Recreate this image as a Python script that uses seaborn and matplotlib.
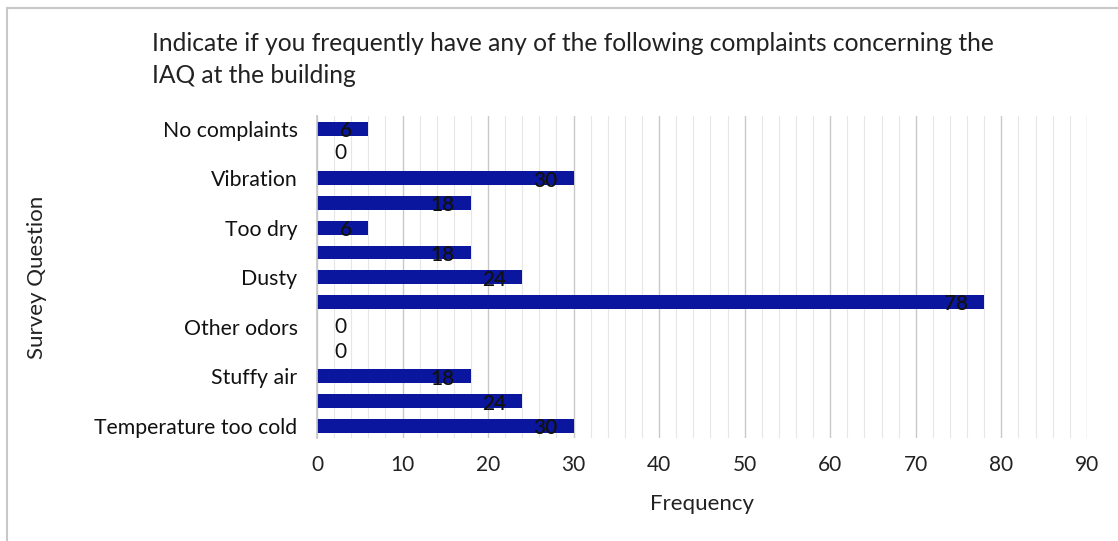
import matplotlib
matplotlib.use("Agg")
import matplotlib.pyplot as plt
import seaborn as sns
import pandas as pd
from matplotlib.ticker import MultipleLocator
from matplotlib.patches import Rectangle

# Data (top to bottom as displayed)
categories = ["No complaints", "Item 12", "Vibration", "Item 10", "Too dry", "Item 8",
              "Dusty", "Item 6", "Other odors", "Item 4", "Stuffy air", "Item 2",
              "Temperature too cold"]
tick_labels = ["No complaints", "", "Vibration", "", "Too dry", "",
               "Dusty", "", "Other odors", "", "Stuffy air", "",
               "Temperature too cold"]
values = [6, 0, 30, 18, 6, 18, 24, 78, 0, 0, 18, 24, 30]

title = "Indicate if you frequently have any of the following complaints concerning the\nIAQ at the building"
xlabel = "Frequency"
ylabel = "Survey Question"

sns.set_theme(style="white")
plt.rcParams['font.family'] = ['Lato', 'DejaVu Sans']

df = pd.DataFrame({"cat": categories, "val": values})

fig = plt.figure(figsize=(11.18, 5.41), dpi=100)
ax = fig.add_axes([0.2835, 0.19, 0.6887, 0.595])

sns.barplot(data=df, x="val", y="cat", order=categories, color="#0A169E",
            saturation=1, width=0.56, linewidth=0, ax=ax)

ax.set_xlim(0, 90)
ax.set_ylim(len(categories) - 0.5, -0.5)
ax.xaxis.set_major_locator(MultipleLocator(10))
ax.xaxis.set_minor_locator(MultipleLocator(2))
ax.grid(which="major", axis="x", color="#c8c8c8", linewidth=1.0)
ax.grid(which="minor", axis="x", color="#e6e6e6", linewidth=0.8)
ax.set_axisbelow(True)
for s in ["top", "right", "bottom"]:
    ax.spines[s].set_visible(False)
ax.spines["left"].set_color("#c8c8c8")
ax.tick_params(axis="x", which="both", length=0, labelsize=15, colors="#222222", pad=12)
ax.tick_params(axis="y", length=0, labelsize=15.3, colors="#111111", pad=14)
ax.set_yticks(range(len(categories)))
ax.set_yticklabels(tick_labels)

ax.set_xlabel(xlabel, fontsize=16, color="#222222", labelpad=14)
ax.set_ylabel(ylabel, fontsize=16, color="#222222", labelpad=34)

for i, v in enumerate(values):
    if v > 0:
        ax.text(v - 1.9, i + 0.1, str(v), ha="right", va="center", fontsize=15,
                fontweight="semibold", color="#111111")
    else:
        ax.text(2.7, i, str(v), ha="center", va="center", fontsize=15, color="#111111")

fig.text(152 / 1118, 1 - 32 / 541, title, ha="left", va="top", fontsize=17.7,
         color="#222222", linespacing=1.47)

fig.patches.append(Rectangle((7 / 1118, -0.05), 1.2, 1 - 8 / 541 + 0.05, transform=fig.transFigure,
                             fill=False, edgecolor="#c8c8c8", linewidth=1.5))

fig.savefig("out.png", dpi=100)
